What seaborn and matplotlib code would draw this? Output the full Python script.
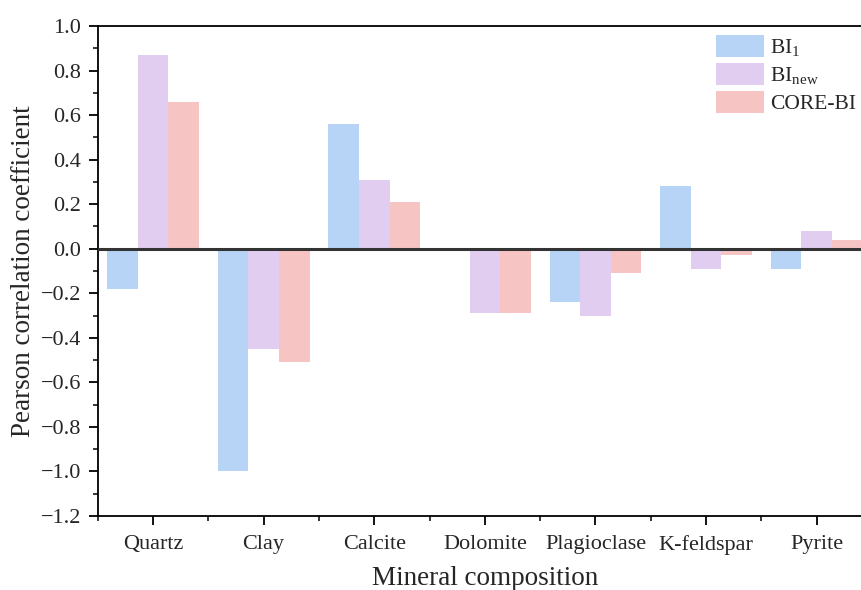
import matplotlib
matplotlib.use("Agg")
import matplotlib.pyplot as plt
from matplotlib.ticker import MultipleLocator, FixedLocator
import seaborn as sns
import pandas as pd

minerals = ["Quartz", "Clay", "Calcite", "Dolomite", "Plagioclase", "K-feldspar", "Pyrite"]
series_names = [r"BI$_\mathregular{1}$", r"BI$_\mathregular{new}$", "CORE-BI"]
bi1 = [-0.18, -1.00, 0.56, 0.00, -0.24, 0.28, -0.09]
bi_new = [0.87, -0.45, 0.31, -0.29, -0.30, -0.09, 0.08]
core_bi = [0.66, -0.51, 0.21, -0.29, -0.11, -0.03, 0.04]
colors = ["#B7D3F5", "#E0CDF0", "#F7C4C4"]

sns.set_theme(style="ticks")
plt.rcParams["font.family"] = ["Liberation Serif", "DejaVu Serif"]
plt.rcParams["mathtext.fontset"] = "stix"

rows = []
for name, vals in zip(series_names, [bi1, bi_new, core_bi]):
    for m, v in zip(minerals, vals):
        rows.append({"Mineral": m, "Index": name, "r": v})
df = pd.DataFrame(rows)

fig = plt.figure(figsize=(8.61, 5.90), dpi=100)
W, H = 861, 590
left, right, top, bottom = 97.7, 872, 26, 516
ax = fig.add_axes([left / W, 1 - bottom / H, (right - left) / W, (bottom - top) / H])

sns.barplot(data=df, x="Mineral", y="r", hue="Index", order=minerals,
            hue_order=series_names, palette=colors, width=0.83,
            saturation=1, linewidth=0, ax=ax)

ax.axhline(0, color="#333333", lw=2.2, zorder=3)
ax.set_xlim(-0.5, 6.5)
ax.set_ylim(-1.2, 1.0)
yticks = [round(-1.2 + 0.2 * i, 1) for i in range(12)]
ax.set_yticks(yticks)
ax.set_yticklabels([f"{t:.1f}".replace("-", "\u2212") for t in yticks])
ax.yaxis.set_minor_locator(MultipleLocator(0.1))
ax.xaxis.set_minor_locator(FixedLocator([i - 0.5 for i in range(8)]))

for s in ax.spines.values():
    s.set_linewidth(1.3)
    s.set_color("black")
ax.tick_params(axis="both", which="major", direction="out", length=6.5, width=1.3,
               labelsize=16, color="black")
ax.tick_params(axis="both", which="minor", direction="out", length=3.5, width=1.1,
               color="black")
ax.tick_params(axis="x", which="major", pad=7)
ax.tick_params(axis="y", which="major", pad=5.5)

ax.set_xlabel("Mineral composition", fontsize=19.5, labelpad=8)
ax.set_ylabel("Pearson correlation coefficient", fontsize=19.5, labelpad=3)

leg = ax.legend(loc="upper left", bbox_to_anchor=(716 / W, 1 - 35 / H),
                bbox_transform=fig.transFigure, frameon=False, fontsize=15.5,
                handlelength=2.22, handleheight=1.16, labelspacing=0.24,
                handletextpad=0.3, borderaxespad=0, borderpad=0)

fig.savefig("out.png", dpi=100)
